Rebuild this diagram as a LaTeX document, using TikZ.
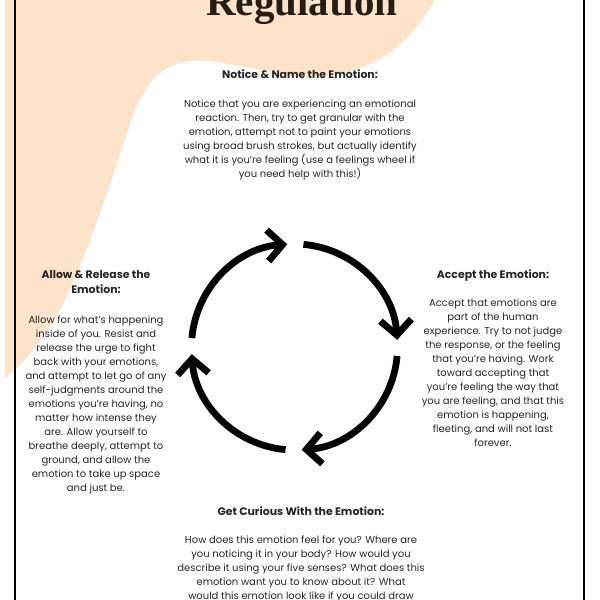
\documentclass[tikz,border=0pt]{standalone}
\usepackage{fontspec}
\setmainfont{Poppins}
\newfontfamily\titlefont{Liberation Serif}
\usetikzlibrary{arrows.meta}
\definecolor{peach}{RGB}{252,227,201}
\definecolor{ink}{RGB}{38,38,38}
\definecolor{titleink}{RGB}{36,30,22}

\begin{document}
\begin{tikzpicture}[
        x=1pt, y=-1pt,
        every node/.style={inner sep=0pt, text=ink},
        heading/.style={font=\fontsize{10.9}{15}\selectfont\bfseries, align=center, anchor=base},
        body/.style={font=\fontsize{10}{14}\selectfont, align=center, anchor=base},
        cycle arrow/.style={line width=6.8pt, -{Straight Barb[length=15pt,width=31pt]}}
    ]
    \clip (0,0) rectangle (600,600);
    \useasboundingbox (0,0) rectangle (600,600);

    % peach blob behind the title
    \fill[peach] (5,0) -- (435,0)
        .. controls (405,50) and (370,72) .. (322,77)
        .. controls (280,81) and (240,60) .. (195,61)
        .. controls (160,62) and (145,85) .. (133,115)
        .. controls (115,170) and (90,250) .. (60,310)
        .. controls (40,345) and (22,365) .. (5,378) -- cycle;

    % page frame
    \draw[line width=2.5pt] (15,0) -- (15,600);
    \draw[line width=2.5pt] (584,0) -- (584,600);

    \node[font=\titlefont\bfseries\fontsize{41}{41}\selectfont, text=titleink, anchor=base]
        (title) at (302,15) {Regulation};

    % notice (base = last line)
    \node[heading] (noticehead) at (300,78.5) {Notice \& Name the Emotion:};
    \node[body] (noticebody) at (300,177.5) {Notice that you are experiencing an emotional\\
        reaction. Then, try to get granular with the\\
        emotion, attempt not to paint your emotions\\
        using broad brush strokes, but actually identify\\
        what it is you’re feeling (use a feelings wheel if\\
        you need help with this!)};

    % accept
    \node[heading] (accepthead) at (493,278.5) {Accept the Emotion:};
    \node[body] (acceptbody) at (493,446.5) {Accept that emotions are\\
        part of the human\\
        experience. Try to not judge\\
        the response, or the feeling\\
        that you’re having. Work\\
        toward accepting that\\
        you’re feeling the way that\\
        you are feeling, and that this\\
        emotion is happening,\\
        fleeting, and will not last\\
        forever.};

    % curious
    \node[heading] (curioushead) at (301,515.5) {Get Curious With the Emotion:};
    \node[body] (curiousbody) at (301,599.5) {How does this emotion feel for you? Where are\\
        you noticing it in your body? How would you\\
        describe it using your five senses? What does this\\
        emotion want you to know about it? What\\
        would this emotion look like if you could draw};

    % allow
    \node[heading] (allowhead) at (96,293.5) {Allow \& Release the\\Emotion:};
    \node[body] (allowbody) at (96,491.5) {Allow for what’s happening\\
        inside of you. Resist and\\
        release the urge to fight\\
        back with your emotions,\\
        and attempt to let go of any\\
        self-judgments around the\\
        emotions you’re having, no\\
        matter how intense they\\
        are. Allow yourself to\\
        breathe deeply, attempt to\\
        ground, and allow the\\
        emotion to take up space\\
        and just be.};

    % the cycle
    \coordinate (hub) at (294.5,347);
    \foreach \k in {0,1,2,3}
        \draw[cycle arrow] ([shift={(90*\k-85:103)}]hub)
            arc[start angle=90*\k-85, end angle=90*\k-4, radius=103];

\end{tikzpicture}
\end{document}
